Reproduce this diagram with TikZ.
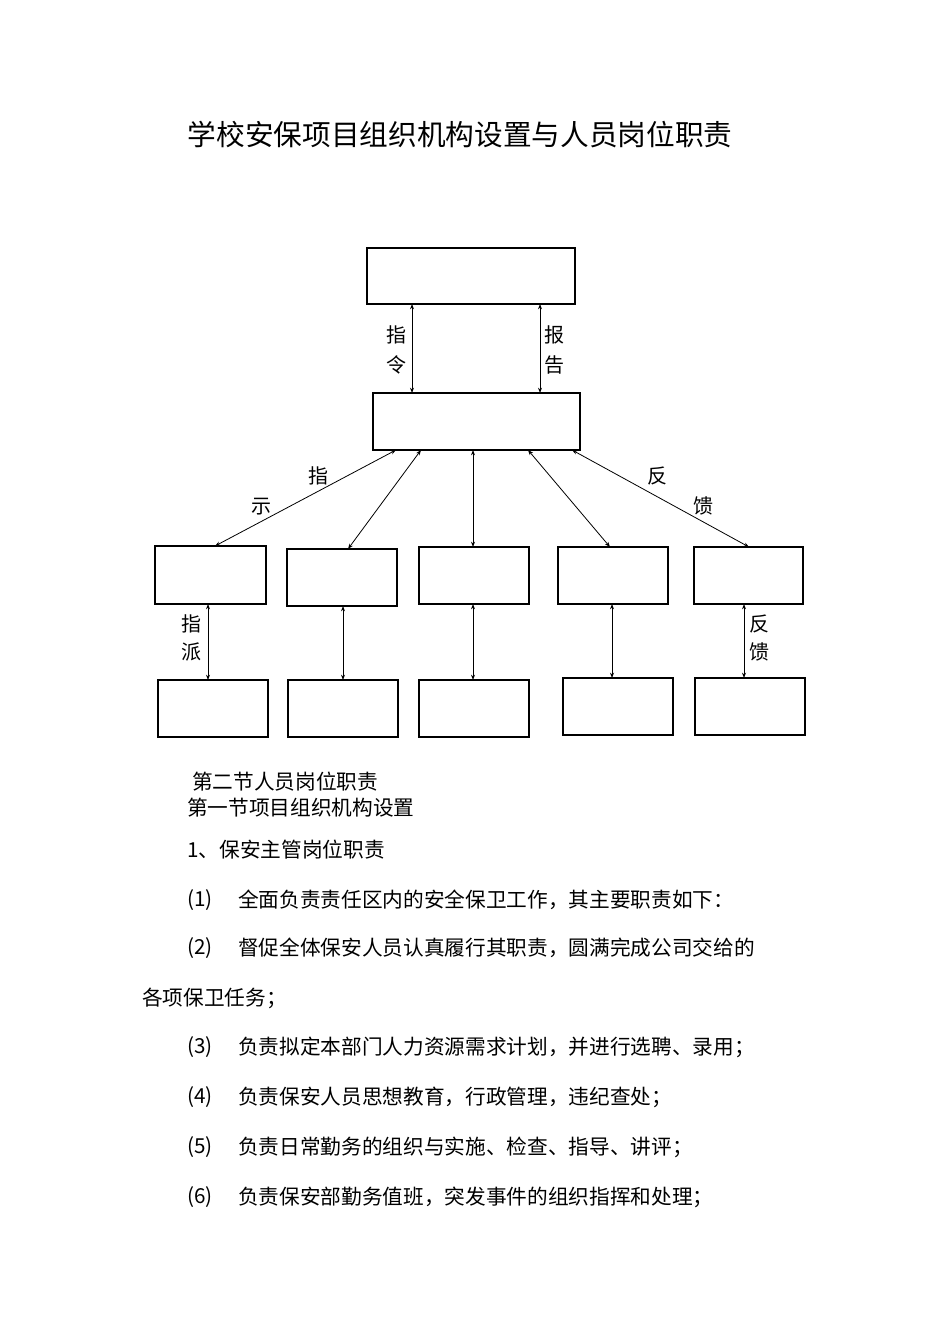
\documentclass[tikz,border=0pt]{standalone}
\usepackage{fontspec}
\newfontfamily\cjk{Noto Sans CJK SC}
\usetikzlibrary{arrows.meta}
\begin{document}
\begin{tikzpicture}[x=0.75pt,y=-0.75pt,
  bx/.style={draw,line width=0.9pt},
  ar/.style={{Stealth[length=4pt,width=3pt]}-{Stealth[length=4pt,width=3pt]},line width=0.6pt},
  lb/.style={font=\cjk\fontsize{15}{15}\selectfont,inner sep=0pt},
  tx/.style={font=\cjk\fontsize{15.5}{16}\selectfont,anchor=west,inner sep=0pt}]
\useasboundingbox (0,0) rectangle (950,1344);
\node[font=\cjk\fontsize{21.5}{22}\selectfont] (title) at (460,135) {学校安保项目组织机构设置与人员岗位职责};
\coordinate (t1) at (367,248); \draw[bx] (t1) rectangle (575,304);
\coordinate (m1) at (373,393); \draw[bx] (m1) rectangle (580,450);
\draw[ar] (412,304) -- (412,393);
\draw[ar] (540,304) -- (540,393);
\node[lb] (l1) at (396,335) {指}; \node[lb] (l2) at (396,365) {令};
\node[lb] (l3) at (554,335) {报}; \node[lb] (l4) at (554,365) {告};
% second row
\draw[bx] (155,546) rectangle (266,604);
\draw[bx] (287,549) rectangle (397,606);
\draw[bx] (419,547) rectangle (529,604);
\draw[bx] (558,547) rectangle (668,604);
\draw[bx] (694,547) rectangle (803,604);
% third row
\draw[bx] (158,680) rectangle (268,737);
\draw[bx] (288,680) rectangle (398,737);
\draw[bx] (419,680) rectangle (529,737);
\draw[bx] (563,678) rectangle (673,735);
\draw[bx] (695,678) rectangle (805,735);
% fan
\draw[ar] (396,450) -- (215,546);
\draw[ar] (421,450) -- (348,549);
\draw[ar] (473,450) -- (473,547);
\draw[ar] (528,450) -- (610,547);
\draw[ar] (572,450) -- (749,547);
\node[lb] (l5) at (318,476) {指}; \node[lb] (l6) at (261,507) {示};
\node[lb] (l7) at (657,476) {反}; \node[lb] (l8) at (703,506) {馈};
% verticals
\draw[ar] (208,604) -- (208,680);
\draw[ar] (343,606) -- (343,680);
\draw[ar] (473,604) -- (473,680);
\draw[ar] (612,604) -- (612,678);
\draw[ar] (744,604) -- (744,678);
\node[lb] (l9) at (191,624) {指}; \node[lb] (l10) at (191,652) {派};
\node[lb] (l11) at (759,624) {反}; \node[lb] (l12) at (759,652) {馈};
% text
\node[tx] (s1) at (192,782) {第二节人员岗位职责};
\node[tx] (s2) at (187,808) {第一节项目组织机构设置};
\node[tx] (s3) at (187,850) {1、保安主管岗位职责};
\node[tx] (a1) at (187,900) {(1)};
\node[tx] (b1) at (238,900) {全面负责责任区内的安全保卫工作，其主要职责如下：};
\node[tx] (a2) at (187,948) {(2)};
\node[tx] (b2) at (238,948) {督促全体保安人员认真履行其职责，圆满完成公司交给的};
\node[tx] (b2b) at (142,998) {各项保卫任务；};
\node[tx] (a3) at (187,1047) {(3)};
\node[tx] (b3) at (238,1047) {负责拟定本部门人力资源需求计划，并进行选聘、录用；};
\node[tx] (a4) at (187,1097) {(4)};
\node[tx] (b4) at (238,1097) {负责保安人员思想教育，行政管理，违纪查处；};
\node[tx] (a5) at (187,1147) {(5)};
\node[tx] (b5) at (238,1147) {负责日常勤务的组织与实施、检查、指导、讲评；};
\node[tx] (a6) at (187,1197) {(6)};
\node[tx] (b6) at (238,1197) {负责保安部勤务值班，突发事件的组织指挥和处理；};
\end{tikzpicture}
\end{document}
